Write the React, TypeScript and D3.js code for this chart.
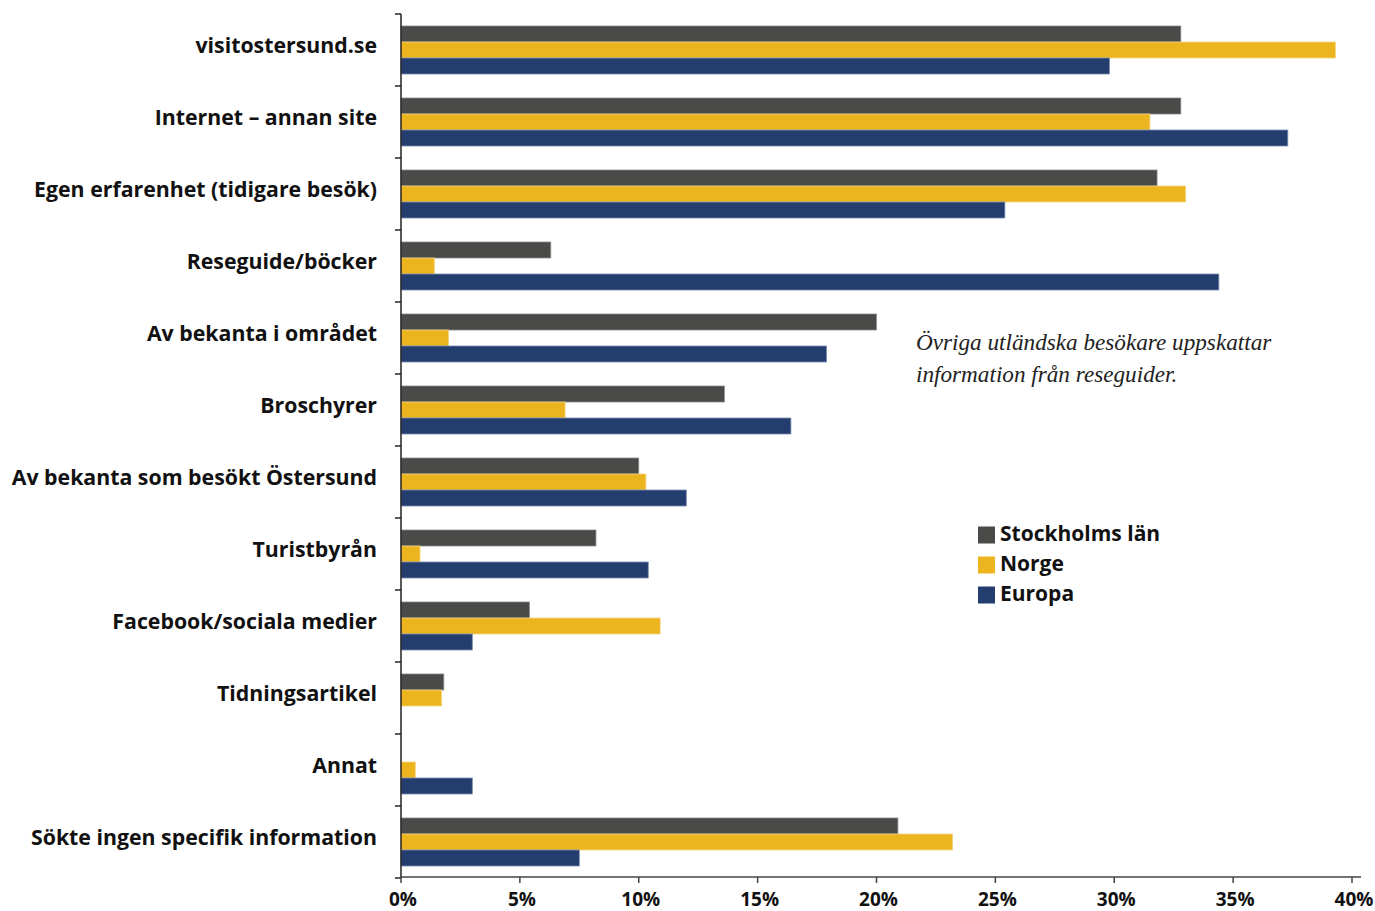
import React from "react";
import * as d3 from "d3";

const categories = [
  "visitostersund.se",
  "Internet – annan site",
  "Egen erfarenhet (tidigare besök)",
  "Reseguide/böcker",
  "Av bekanta i området",
  "Broschyrer",
  "Av bekanta som besökt Östersund",
  "Turistbyrån",
  "Facebook/sociala medier",
  "Tidningsartikel",
  "Annat",
  "Sökte ingen specifik information",
];
const seriesNames = ["Stockholms län", "Norge", "Europa"];
const stockholm = [32.8, 32.8, 31.8, 6.3, 20.0, 13.6, 10.0, 8.2, 5.4, 1.8, 0, 20.9];
const norge = [39.3, 31.5, 33.0, 1.4, 2.0, 6.9, 10.3, 0.8, 10.9, 1.7, 0.6, 23.2];
const europa = [29.8, 37.3, 25.4, 34.4, 17.9, 16.4, 12.0, 10.4, 3.0, 0, 3.0, 7.5];
const xTicks = [0, 5, 10, 15, 20, 25, 30, 35, 40];
const colors = ["#4a4a48", "#ecb520", "#233d6e"];
const strokes = ["#8a8a88", "#f3d27a", "#7d8fb0"];
const annotation = ["Övriga utländska besökare uppskattar", "information från reseguider."];

export default function App() {
  const W = 1375, H = 911;
  const left = 401, right = 1352, top = 14, bottom = 878;
  const x = d3.scaleLinear().domain([0, 40]).range([left, right]);
  const y = d3.scaleBand().domain(categories).range([top, bottom]).paddingInner(0.3333).paddingOuter(0.1667);
  const inner = d3.scaleBand().domain(seriesNames).range([0, y.bandwidth()]);
  const series = [stockholm, norge, europa];
  const font = "'Open Sans', 'Noto Sans', sans-serif";
  const step = (bottom - top) / categories.length;
  const bandTicks = d3.range(categories.length + 1).map((i) => top + i * step);

  return (
    <svg width={W} height={H} style={{ position: "absolute", left: 0, top: 0 }} fontFamily={font}>
      <rect width={W} height={H} fill="#fff" />
      {series.map((vals, si) =>
        vals.map((v, i) =>
          v > 0 ? (
            <rect
              key={`${si}-${i}`}
              x={x(0)}
              y={(y(categories[i]) as number) + (inner(seriesNames[si]) as number)}
              width={x(v) - x(0)}
              height={inner.bandwidth()}
              fill={colors[si]}
              stroke={strokes[si]}
              strokeWidth={0.8}
            />
          ) : null
        )
      )}
      {/* y axis */}
      <line x1={left} x2={left} y1={top} y2={bottom} stroke="#222" strokeWidth={1.5} />
      {bandTicks.map((t, i) => (
        <line key={i} x1={left - 6} x2={left} y1={t} y2={t} stroke="#222" strokeWidth={1.5} />
      ))}
      {categories.map((c) => (
        <text
          key={c}
          x={377}
          y={(y(c) as number) + y.bandwidth() / 2 - 3}
          textAnchor="end"
          dominantBaseline="middle"
          fontSize={21.3}
          fontWeight={700}
          fill="#111"
        >
          {c}
        </text>
      ))}
      {/* x axis */}
      <line x1={left} x2={1361} y1={bottom - 1} y2={bottom - 1} stroke="#444" strokeWidth={1.5} />
      {xTicks.map((t) => (
        <g key={t}>
          <line x1={x(t)} x2={x(t)} y1={bottom - 1} y2={bottom + 5} stroke="#444" strokeWidth={1.5} />
          <text x={x(t) + 2} y={906} textAnchor="middle" fontSize={19} fontWeight={700} fill="#111">
            {`${t}%`}
          </text>
        </g>
      ))}
      {/* annotation */}
      {annotation.map((line, i) => (
        <text
          key={i}
          x={916}
          y={350 + i * 32}
          fontFamily="'Liberation Serif', serif"
          fontStyle="italic"
          fontSize={23.2}
          fill="#222"
        >
          {line}
        </text>
      ))}
      {/* legend */}
      {seriesNames.map((n, i) => (
        <g key={n} transform={`translate(978, ${526.5 + i * 30})`}>
          <rect width={17} height={17} fill={colors[i]} />
          <text x={22} y={8.5} dominantBaseline="middle" fontSize={21} fontWeight={700} fill="#111">
            {n}
          </text>
        </g>
      ))}
    </svg>
  );
}
